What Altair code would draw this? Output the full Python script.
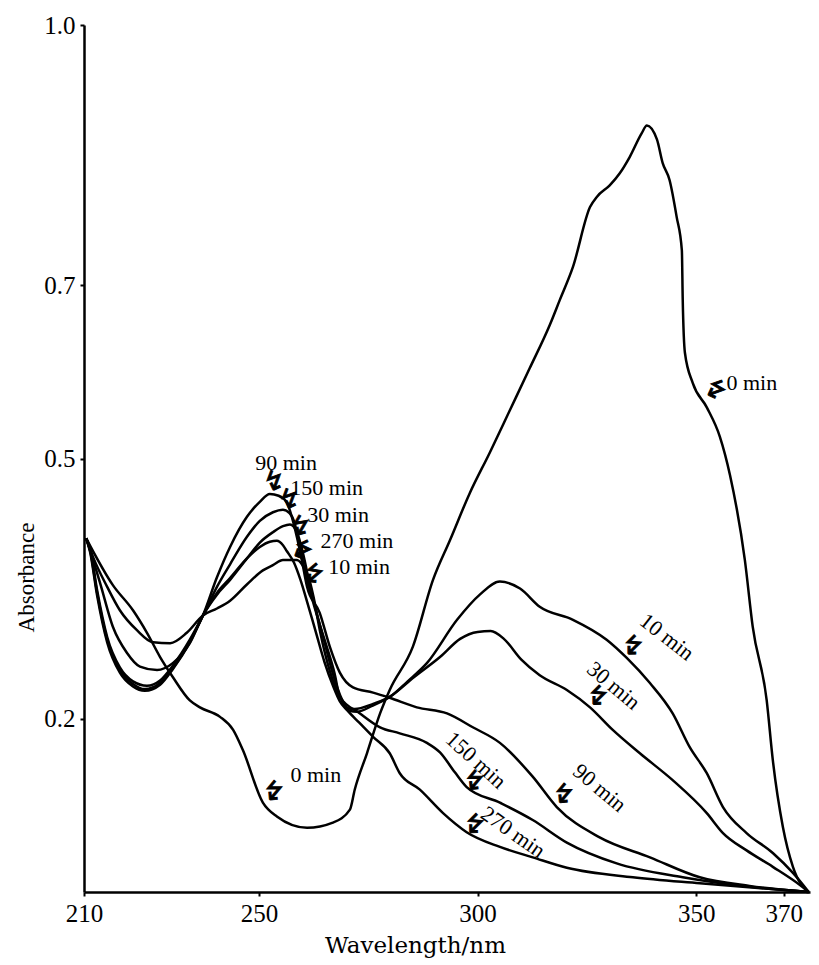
import altair as alt
import pandas as pd

# ---- data (wavelength nm, absorbance) ----
wl_0 = [210.5, 216.6, 221.2, 224.4, 227.4, 230.3, 234.2, 236.5, 241.1, 244.1, 246.3, 250.9, 254.1, 261.0,
        266.9, 270.8, 271.9, 274.7, 277.7, 279.9, 285.2, 289.8, 293.7, 298.2, 302.8, 307.4, 311.9, 316.5,
        318.8, 321.8, 325.7, 327.3, 330.2, 332.5, 334.8, 337.5, 338.7, 341.0, 342.3, 343.9, 345.5, 346.7,
        346.9, 347.4, 349.2, 352.4, 355.4, 357.7, 361.1, 362.9, 366.1, 367.5, 369.8, 372.1, 375.7]
ab_0 = [0.408, 0.354, 0.325, 0.299, 0.271, 0.248, 0.221, 0.213, 0.202, 0.187, 0.164, 0.103, 0.087, 0.074,
        0.080, 0.095, 0.118, 0.160, 0.206, 0.233, 0.283, 0.360, 0.406, 0.460, 0.507, 0.556, 0.604, 0.654,
        0.683, 0.721, 0.790, 0.802, 0.815, 0.829, 0.848, 0.875, 0.884, 0.868, 0.841, 0.821, 0.779, 0.740,
        0.683, 0.622, 0.587, 0.559, 0.525, 0.481, 0.383, 0.306, 0.221, 0.152, 0.075, 0.029, 0.0]

wl_10 = [210.5, 212.1, 215.3, 218.2, 222.1, 225.8, 229.7, 233.5, 237.2, 240.4, 243.4, 247.3, 250.9, 253.2,
         255.5, 258.7, 260.5, 261.7, 262.5, 264.0, 266.2, 268.5, 270.3, 271.9, 276.1, 279.9, 284.0, 288.4,
         295.3, 300.5, 305.1, 309.7, 314.2, 321.8, 329.5, 334.1, 339.4, 344.6, 348.5, 352.4, 356.1, 361.5,
         367.5, 372.1, 375.7]
ab_10 = [0.408, 0.386, 0.352, 0.325, 0.302, 0.288, 0.287, 0.299, 0.319, 0.327, 0.336, 0.355, 0.371, 0.377,
         0.383, 0.383, 0.372, 0.357, 0.340, 0.300, 0.255, 0.225, 0.212, 0.211, 0.217, 0.225, 0.243, 0.264,
         0.314, 0.343, 0.358, 0.350, 0.329, 0.314, 0.291, 0.270, 0.241, 0.206, 0.167, 0.137, 0.098, 0.068,
         0.045, 0.022, 0.0]

wl_30 = [210.5, 211.4, 213.7, 216.6, 219.8, 222.8, 226.7, 230.3, 234.2, 237.2, 240.4, 243.4, 247.3, 250.2,
         253.2, 255.5, 257.1, 258.7, 260.1, 261.4, 262.8, 264.9, 267.0, 269.0, 270.6, 272.5, 276.0, 279.9,
         285.5, 291.4, 296.0, 300.0, 303.0, 306.0, 310.0, 314.2, 320.4, 325.7, 330.9, 337.1, 344.6, 352.4,
         356.1, 361.5, 367.5, 373.7, 375.7]
ab_30 = [0.408, 0.394, 0.356, 0.306, 0.276, 0.260, 0.256, 0.264, 0.287, 0.319, 0.343, 0.360, 0.385, 0.403,
         0.415, 0.422, 0.424, 0.415, 0.390, 0.360, 0.330, 0.290, 0.250, 0.222, 0.209, 0.208, 0.215, 0.225,
         0.248, 0.271, 0.292, 0.300, 0.301, 0.292, 0.268, 0.250, 0.233, 0.213, 0.187, 0.160, 0.129, 0.091,
         0.068, 0.048, 0.029, 0.008, 0.0]

wl_90 = [210.5, 211.4, 213.0, 215.3, 218.2, 221.2, 223.9, 227.4, 230.3, 234.2, 237.2, 240.4, 243.4, 247.3,
         250.2, 252.5, 254.5, 256.4, 257.5, 258.7, 259.8, 261.0, 263.9, 266.2, 268.5, 271.5, 276.1, 279.9,
         286.1, 293.0, 298.9, 305.1, 312.6, 318.1, 327.9, 339.4, 350.8, 362.2, 375.7]
ab_90 = [0.408, 0.394, 0.345, 0.291, 0.256, 0.240, 0.234, 0.241, 0.258, 0.289, 0.319, 0.363, 0.398, 0.433,
         0.450, 0.459, 0.457, 0.449, 0.433, 0.409, 0.383, 0.352, 0.322, 0.283, 0.253, 0.236, 0.230, 0.224,
         0.213, 0.206, 0.190, 0.172, 0.133, 0.098, 0.063, 0.040, 0.017, 0.007, 0.0]

wl_150 = [210.5, 211.4, 213.0, 215.3, 218.2, 221.2, 224.4, 227.4, 230.3, 234.2, 237.2, 240.4, 243.4, 247.3,
          250.2, 253.2, 255.5, 257.0, 258.0, 259.3, 260.5, 261.8, 263.5, 265.5, 267.3, 268.5, 273.1, 277.7,
          282.2, 288.4, 291.4, 294.8, 297.5, 305.1, 312.6, 320.4, 331.8, 346.9, 362.2, 375.7]
ab_150 = [0.408, 0.396, 0.348, 0.294, 0.259, 0.243, 0.238, 0.244, 0.261, 0.291, 0.319, 0.352, 0.378, 0.410,
          0.428, 0.438, 0.441, 0.437, 0.428, 0.400, 0.370, 0.345, 0.315, 0.283, 0.252, 0.225, 0.206, 0.190,
          0.183, 0.172, 0.161, 0.138, 0.121, 0.103, 0.083, 0.057, 0.033, 0.017, 0.006, 0.0]

wl_270 = [210.5, 211.4, 213.0, 215.3, 218.2, 221.2, 223.9, 227.4, 230.3, 234.2, 237.2, 240.4, 243.4, 247.3,
          250.2, 252.5, 254.1, 255.5, 256.4, 258.0, 259.5, 261.0, 263.0, 265.0, 267.0, 268.5, 270.1, 273.0,
          276.1, 279.9, 282.2, 286.8, 292.1, 297.5, 305.1, 312.6, 320.4, 335.5, 350.8, 375.7]
ab_270 = [0.408, 0.392, 0.342, 0.288, 0.253, 0.237, 0.232, 0.239, 0.257, 0.288, 0.319, 0.345, 0.362, 0.385,
          0.398, 0.404, 0.405, 0.400, 0.393, 0.380, 0.360, 0.335, 0.300, 0.265, 0.237, 0.220, 0.210, 0.195,
          0.179, 0.160, 0.137, 0.118, 0.091, 0.069, 0.052, 0.040, 0.028, 0.017, 0.010, 0.0]

series = {"0 min": (wl_0, ab_0), "10 min": (wl_10, ab_10), "30 min": (wl_30, ab_30),
          "90 min": (wl_90, ab_90), "150 min": (wl_150, ab_150), "270 min": (wl_270, ab_270)}

# curve labels
label_text = ["90 min", "150 min", "30 min", "270 min", "10 min", "0 min", "0 min",
              "10 min", "30 min", "150 min", "90 min", "270 min"]
label_wl = [256.2, 265.5, 268.1, 272.4, 272.9, 263.0, 362.7, 343.3, 331.1, 299.6, 327.9, 308.1]
label_ab = [0.495, 0.466, 0.435, 0.405, 0.375, 0.135, 0.587, 0.294, 0.238, 0.152, 0.120, 0.069]
label_angle = [0, 0, 0, 0, 0, 0, 0, 38, 40, 42, 40, 35]

# little zigzag pointer arrows
arrow_wl = [253.4, 256.9, 259.4, 259.6, 262.3, 253.2, 354.2, 335.3, 327.3, 299.1, 319.5, 299.1]
arrow_ab = [0.473, 0.452, 0.421, 0.394, 0.366, 0.115, 0.579, 0.283, 0.225, 0.127, 0.112, 0.077]
arrow_angle = [10, 10, 20, 55, 40, 30, 60, 35, 35, 30, 30, 35]

x_ticks = [210, 250, 300, 350, 370]
y_ticks = [0.2, 0.5, 0.7, 1.0]

rows = []
for name, (wls, abs_) in series.items():
    for i, (w, a) in enumerate(zip(wls, abs_)):
        rows.append({"series": name, "wl": w, "ab": a, "idx": i})
df = pd.DataFrame(rows)

labels_df = pd.DataFrame({"text": label_text, "wl": label_wl, "ab": label_ab, "angle": label_angle})
arrows_df = pd.DataFrame({"text": ["\u21af"] * len(arrow_wl), "wl": arrow_wl, "ab": arrow_ab,
                          "angle": arrow_angle})

xscale = alt.Scale(domain=[210, 376], nice=False, zero=False)
yscale = alt.Scale(domain=[0, 1.0], nice=False, zero=False)

serif = "Liberation Serif"

lines = alt.Chart(df).mark_line(color="black", strokeWidth=2.5, interpolate="monotone").encode(
    x=alt.X("wl:Q", scale=xscale,
            axis=alt.Axis(values=x_ticks, format="d", grid=False, labelFont=serif, labelFontSize=25,
                          labelColor="black", labelFlush=False, labelPadding=5, tickSize=4, tickWidth=2,
                          tickColor="black", domainColor="black", domainWidth=2.5,
                          title="Wavelength/nm", titleFont="DejaVu Serif", titleFontSize=23,
                          titleFontWeight="normal", titleColor="black", titleX=331, titleY=60,
                          titleBaseline="alphabetic", titleAlign="center")),
    y=alt.Y("ab:Q", scale=yscale,
            axis=alt.Axis(values=y_ticks, format=".1f", grid=False, labelFont=serif, labelFontSize=25,
                          labelColor="black", labelFlush=False, labelPadding=5, tickSize=4, tickWidth=2,
                          tickColor="black", domainColor="black", domainWidth=2.5,
                          title="Absorbance", titleFont=serif, titleFontSize=23, titleFontWeight="normal",
                          titleColor="black", titleAngle=-90, titleX=-51, titleY=552,
                          titleBaseline="alphabetic", titleAlign="center")),
    detail="series:N",
    order="idx:Q",
)

labels = alt.Chart(labels_df).mark_text(font=serif, fontSize=22, color="black", align="center",
                                        baseline="middle").encode(
    x=alt.X("wl:Q", scale=xscale),
    y=alt.Y("ab:Q", scale=yscale),
    text="text:N",
    angle=alt.Angle("angle:Q", scale=None),
)

arrows = alt.Chart(arrows_df).mark_text(font="DejaVu Sans", fontSize=26, color="black", align="center",
                                        baseline="middle", stroke="black", strokeWidth=0.9).encode(
    x=alt.X("wl:Q", scale=xscale),
    y=alt.Y("ab:Q", scale=yscale),
    text="text:N",
    angle=alt.Angle("angle:Q", scale=None),
)

chart = alt.layer(lines, labels, arrows).properties(
    width=726, height=867,
    padding={"left": 76, "top": 17, "right": 1, "bottom": 69},
    autosize=alt.AutoSizeParams(type="none"),
).configure_view(stroke=None)

chart.save("out.html", embed_options={"renderer": "svg", "actions": False})
